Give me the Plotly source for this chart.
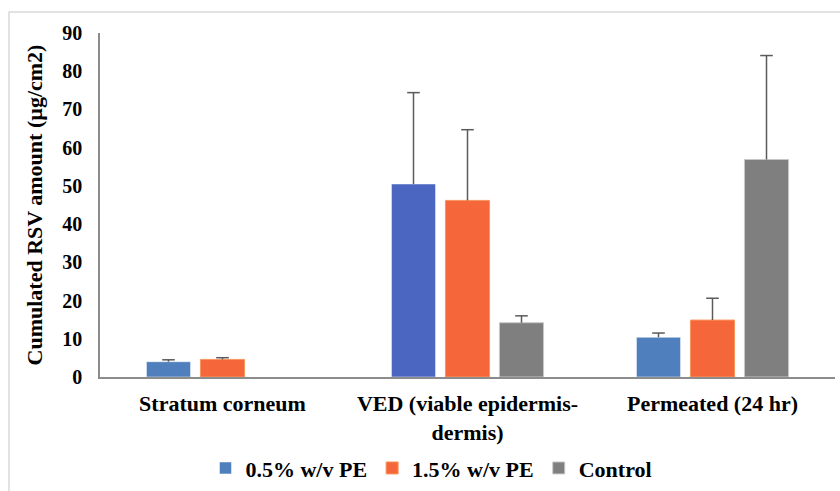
import plotly.graph_objects as go

categories = ["Stratum corneum", "VED (viable epidermis-<br>dermis)", "Permeated (24 hr)"]
series_names = ["0.5% w/v PE", "1.5% w/v PE", "Control"]
pe05_values = [4.0, 50.5, 10.4]
pe05_errors = [0.5, 23.9, 1.1]
pe15_values = [4.6, 46.2, 14.9]
pe15_errors = [0.45, 18.5, 5.7]
control_values = [None, 14.2, 56.9]
control_errors = [None, 1.8, 27.2]
y_ticks = [0, 10, 20, 30, 40, 50, 60, 70, 80, 90]

FONT = "Liberation Serif, Times New Roman, serif"
BAR_W = 0.18      # bar width in category units
SLOT = 0.2204     # spacing between bar centres
ERR_COLOR = "#5A5A5A"

xs = list(range(len(categories)))

fig = go.Figure()
specs = [
    (series_names[0], pe05_values, pe05_errors, ["#4F7FBC", "#4A66C0", "#4F7FBC"], "rgba(255,255,255,0.5)"),
    (series_names[1], pe15_values, pe15_errors, ["#F5663B"] * 3, "#F8955E"),
    (series_names[2], control_values, control_errors, ["#7F7F7F"] * 3, "#C8C8C8"),
]
for k, (name, vals, errs, cols, line) in enumerate(specs):
    shift = (k - 1) * SLOT
    fig.add_trace(go.Bar(
        name=name, x=xs, y=vals, width=BAR_W, offset=shift - BAR_W / 2,
        marker=dict(color=cols, line=dict(color=line, width=1)),
    ))
    ex, ey, em = [], [], []
    for i, v, e in zip(xs, vals, errs):
        if v is None or e is None:
            continue
        ex.append(i + shift)
        ey.append(v + e)
        em.append(e)
    fig.add_trace(go.Scatter(
        x=ex, y=ey, mode="markers", showlegend=False, hoverinfo="skip",
        marker=dict(symbol="line-ew", size=9, color=ERR_COLOR,
                    line=dict(color=ERR_COLOR, width=1.5)),
        error_y=dict(type="data", symmetric=False, array=[0] * len(em), arrayminus=em,
                     color=ERR_COLOR, thickness=1.5, width=0),
    ))

fig.add_shape(type="rect", xref="paper", yref="paper",
              x0=-0.1238, x1=1.2, y0=-0.6, y1=1.061,
              line=dict(color="#D9D9D9", width=1.5), fillcolor="rgba(0,0,0,0)", layer="below")

fig.update_layout(
    width=840, height=491,
    margin=dict(l=100, r=5, t=33, b=114, autoexpand=False),
    paper_bgcolor="white", plot_bgcolor="white",
    barmode="overlay",
    font=dict(family=FONT, color="black", size=20, weight="bold"),
    showlegend=True,
    legend=dict(orientation="h", x=0.451, xanchor="center", y=-0.265, yanchor="middle",
                font=dict(family=FONT, size=22, weight="bold", color="black"),
                traceorder="normal", itemwidth=30),
    xaxis=dict(range=[-0.5, 2.5], tickvals=xs, ticktext=categories, automargin=False,
               showline=True, linecolor="#8C8C8C", linewidth=1.5, ticks="",
               tickfont=dict(family=FONT, size=22, weight="bold", color="black"),
               showgrid=False, zeroline=False, ticklabelstandoff=6),
    yaxis=dict(range=[0, 90], tickvals=y_ticks, showline=True, linecolor="#8C8C8C",
               linewidth=1.5, ticks="", showgrid=False, zeroline=False, automargin=False,
               tickfont=dict(family=FONT, size=20, weight="bold", color="black"),
               ticklabelstandoff=12,
               title=dict(text="Cumulated RSV amount (µg/cm2)", standoff=14,
                          font=dict(family=FONT, size=22, weight="bold", color="black"))),
)

fig.write_html("out.html")
